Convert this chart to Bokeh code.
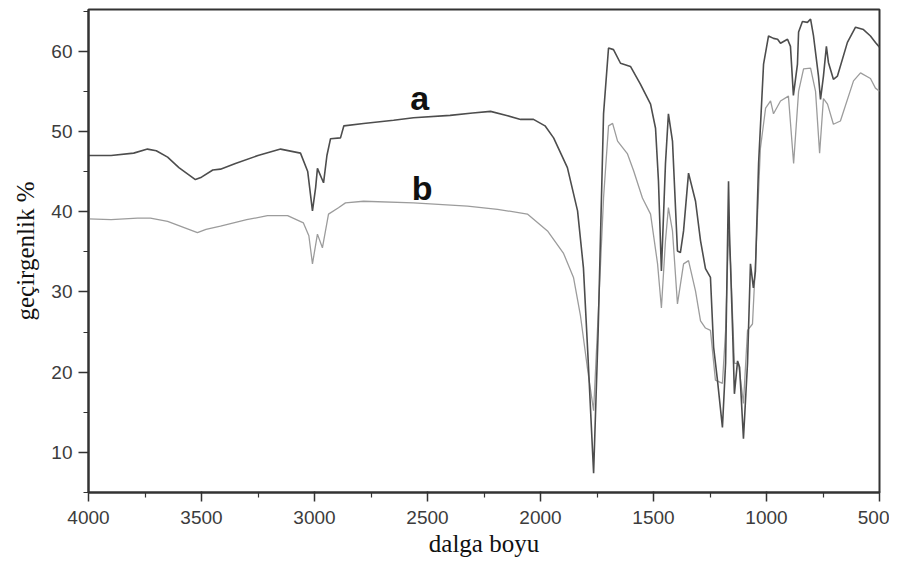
from bokeh.plotting import figure
from bokeh.models import Range1d, FixedTicker
from bokeh.core.properties import value
from bokeh.embed import file_html
from bokeh.resources import INLINE

# ---- data ----
wave_a = [4000, 3900, 3800, 3739, 3700, 3650, 3600, 3527, 3500, 3450, 3416, 3350, 3250, 3150,
          3062, 3030, 3009, 2995, 2987, 2960, 2945, 2929, 2885, 2870, 2783, 2650, 2562, 2400,
          2300, 2221, 2150, 2088, 2031, 1980, 1942, 1881, 1836, 1810, 1790, 1765, 1745, 1721,
          1699, 1677, 1646, 1602, 1558, 1513, 1491, 1478, 1465, 1447, 1434, 1416, 1394, 1381,
          1367, 1345, 1314, 1292, 1270, 1248, 1234, 1217, 1195, 1181, 1168, 1164, 1150, 1142,
          1128, 1119, 1102, 1084, 1071, 1058, 1049, 1035, 1013, 991, 969, 951, 938, 907, 894,
          881, 863, 858, 841, 819, 805, 792, 770, 761, 748, 735, 726, 704, 686, 642, 606, 571,
          540, 518, 500]
trans_a = [47.0, 47.0, 47.3, 47.8, 47.6, 46.8, 45.5, 44.0, 44.3, 45.2, 45.3, 46.0, 47.0, 47.8,
           47.3, 45.0, 40.1, 43.0, 45.4, 43.6, 47.0, 49.1, 49.2, 50.7, 51.0, 51.4, 51.7, 52.0,
           52.3, 52.5, 52.0, 51.5, 51.5, 50.7, 49.2, 45.5, 40.1, 33.0, 22.0, 7.4, 25.0, 52.2,
           60.4, 60.2, 58.5, 58.1, 55.9, 53.4, 50.4, 43.8, 32.6, 46.0, 52.2, 48.8, 35.1, 34.9,
           37.6, 44.8, 41.3, 36.4, 32.9, 31.8, 23.1, 19.0, 13.1, 21.1, 43.8, 37.6, 25.2, 17.3,
           21.4, 20.6, 11.7, 21.1, 33.5, 30.5, 32.6, 46.0, 58.4, 61.9, 61.6, 61.5, 61.0, 61.5, 60.6,
           54.5, 58.4, 62.4, 63.7, 63.6, 64.0, 61.9, 56.9, 54.0, 56.9, 60.6, 58.6, 56.5, 56.9,
           61.1, 63.0, 62.7, 61.9, 61.1, 60.5]

wave_b = [4000, 3900, 3783, 3726, 3650, 3518, 3480, 3416, 3300, 3208, 3119, 3049, 3025, 3009,
          2987, 2965, 2938, 2894, 2863, 2783, 2562, 2323, 2190, 2058, 1969, 1898, 1854, 1823,
          1790, 1765, 1740, 1721, 1699, 1681, 1659, 1615, 1588, 1549, 1513, 1482, 1465, 1447,
          1434, 1416, 1394, 1367, 1345, 1314, 1292, 1270, 1248, 1226, 1195, 1181, 1168, 1159,
          1142, 1124, 1102, 1084, 1062, 1049, 1027, 1004, 982, 969, 938, 903, 880, 858, 836,
          805, 783, 765, 748, 730, 704, 673, 615, 584, 540, 518, 500]
trans_b = [39.1, 39.0, 39.2, 39.2, 38.8, 37.4, 37.8, 38.2, 39.0, 39.5, 39.5, 38.6, 37.0, 33.5,
           37.2, 35.5, 39.7, 40.5, 41.1, 41.3, 41.1, 40.7, 40.3, 39.7, 37.6, 34.8, 31.8, 27.0,
           20.0, 15.2, 30.0, 41.7, 50.7, 51.0, 48.8, 47.2, 45.1, 41.7, 39.7, 33.5, 28.0, 36.4,
           40.5, 37.6, 28.5, 33.5, 33.9, 30.1, 26.4, 25.5, 25.2, 19.0, 18.6, 25.2, 37.6, 33.5,
           21.1, 21.1, 16.1, 25.2, 26.0, 33.5, 47.9, 52.9, 53.8, 52.2, 53.8, 54.4, 46.0, 55.0, 57.8,
           57.9, 55.0, 47.3, 54.1, 53.4, 50.9, 51.3, 56.3, 57.3, 56.6, 55.4, 55.0]

label_text = ["a", "b"]
label_wave = [2535, 2524]
label_trans = [54.2, 42.9]

x_ticks = [4000, 3500, 3000, 2500, 2000, 1500, 1000, 500]
x_minor = [3750, 3250, 2750, 2250, 1750, 1250, 750]
y_ticks = [10, 20, 30, 40, 50, 60]
y_minor = [5, 15, 25, 35, 45, 55, 65]

# ---- figure ----
p = figure(width=889, height=559, output_backend="svg", toolbar_location=None,
           x_range=Range1d(4000, 500), y_range=Range1d(5, 65.2),
           min_border_left=88, min_border_right=10, min_border_top=9, min_border_bottom=60)
p.background_fill_color = "white"
p.border_fill_color = "white"
p.outline_line_color = "#333333"
p.outline_line_width = 2
p.xgrid.visible = False
p.ygrid.visible = False

p.line(wave_b, trans_b, line_color="#9c9c9c", line_width=1.3)
p.line(wave_a, trans_a, line_color="#4d4d4d", line_width=1.6)

p.text(x=label_wave, y=label_trans, text=label_text, text_font=value("Liberation Sans"),
       text_font_style="bold", text_font_size="34px", text_color="#111111",
       text_align="center", text_baseline="alphabetic")

for ax in (p.xaxis[0], p.yaxis[0]):
    ax.axis_line_color = "#333333"
    ax.axis_line_width = 2
    ax.major_tick_line_color = "#333333"
    ax.minor_tick_line_color = "#333333"
    ax.major_tick_line_width = 1.5
    ax.minor_tick_line_width = 1.2
    ax.major_label_text_font = "Liberation Sans"
    ax.major_label_text_font_size = "19px"
    ax.major_label_text_color = "#3c3c3c"
    ax.axis_label_text_font = "Liberation Serif"
    ax.axis_label_text_font_size = "25px"
    ax.axis_label_text_font_style = "normal"
    ax.axis_label_text_color = "#111111"

p.xaxis.ticker = FixedTicker(ticks=x_ticks, minor_ticks=x_minor)
p.yaxis.ticker = FixedTicker(ticks=y_ticks, minor_ticks=y_minor)
p.xaxis.major_tick_in = 1
p.xaxis.major_tick_out = 9
p.xaxis.minor_tick_in = 0
p.xaxis.minor_tick_out = 5
p.yaxis.major_tick_in = 0
p.yaxis.major_tick_out = 10
p.yaxis.minor_tick_in = 0
p.yaxis.minor_tick_out = 5
p.xaxis.axis_label = "dalga boyu"
p.yaxis.axis_label = "geçirgenlik %"
p.xaxis.major_label_standoff = 9
p.yaxis.major_label_standoff = 6
p.xaxis.axis_label_standoff = 3
p.yaxis.axis_label_standoff = 9

open("out.html", "w").write(file_html(p, INLINE))
